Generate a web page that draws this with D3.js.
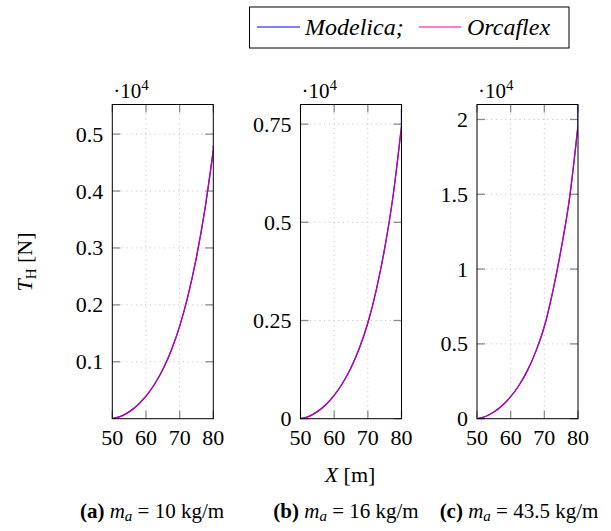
<!DOCTYPE html>
<html lang='en'>
  <head>
    <style type='text/css'>
      body { margin: 0; background-color: #fff; }
      svg { font-family: "Liberation Serif", "DejaVu Serif", serif; }
    </style>
  </head>
  <body>
    <svg id='chart' width='611' height='531'></svg>

    <script src='https://d3js.org/d3.v7.min.js'></script>
    <script type='text/javascript'>
        // data (T_H in N versus X in m)
        var xValues  = [50, 52.5, 55, 57.5, 60, 62.5, 65, 67.5, 70, 72.5, 75, 77.5, 80];
        var tensionA = [0, 40, 120, 238, 396, 601, 863, 1198, 1623, 2163, 2838, 3678, 4718];
        var tensionB = [0, 60, 180, 357, 594, 902, 1295, 1798, 2436, 3276, 4336, 5676, 7450];
        var tensionC = [0, 148, 444, 881, 1470, 2236, 3228, 4516, 6160, 8500, 11350, 14760, 19600];
        // Modelica ends with a short rise at X = 80
        var modelicaTail = [4800, 7870, 21500];

        var xTicks  = [50, 60, 70, 80];
        var yTicksA = [1000, 2000, 3000, 4000, 5000];
        var yTicksB = [0, 2500, 5000, 7500];
        var yTicksC = [0, 5000, 10000, 15000, 20000];
        var yMax    = [5520, 8000, 21000];

        var seriesNames  = ["Modelica;", "Orcaflex"];
        var seriesColors = ["#0000ff", "#f0008c"];
        var captionTag   = ["(a)", "(b)", "(c)"];
        var captionMass  = ["10", "16", "43.5"];

        var svg = d3.select("#chart");

        var plotTop = 104.5, plotBottom = 418.7, plotW = 101;
        var lefts = [112.3, 300.5, 477];
        var captionX = [152, 346, 519];
        var tensions = [tensionA, tensionB, tensionC];
        var yTicks = [yTicksA, yTicksB, yTicksC];

        lefts.forEach(function(left, i) {
            var x = d3.scaleLinear().domain([50, 80]).range([left, left + plotW]);
            var y = d3.scaleLinear().domain([0, yMax[i]]).range([plotBottom, plotTop]);
            var g = svg.append("g");

            // dotted grid
            g.selectAll(".gx").data(xTicks.slice(1, -1)).enter().append("line")
                .attr("x1", function(d) { return x(d); }).attr("x2", function(d) { return x(d); })
                .attr("y1", plotTop).attr("y2", plotBottom)
                .attr("stroke", "#c8c8c8").attr("stroke-dasharray", "1.2,3.5");
            g.selectAll(".gy").data(yTicks[i].filter(function(d) { return d > 0; })).enter().append("line")
                .attr("y1", function(d) { return y(d); }).attr("y2", function(d) { return y(d); })
                .attr("x1", left).attr("x2", left + plotW)
                .attr("stroke", "#c8c8c8").attr("stroke-dasharray", "1.2,3.5");

            // tick marks on all four sides
            var tl = 8;
            xTicks.forEach(function(t) {
                g.append("line").attr("x1", x(t)).attr("x2", x(t)).attr("y1", plotBottom).attr("y2", plotBottom - tl)
                    .attr("stroke", "#8c8c8c").attr("stroke-width", 1.3);
                g.append("line").attr("x1", x(t)).attr("x2", x(t)).attr("y1", plotTop).attr("y2", plotTop + tl)
                    .attr("stroke", "#8c8c8c").attr("stroke-width", 1.3);
            });
            yTicks[i].forEach(function(t) {
                g.append("line").attr("y1", y(t)).attr("y2", y(t)).attr("x1", left).attr("x2", left + tl)
                    .attr("stroke", "#8c8c8c").attr("stroke-width", 1.3);
                g.append("line").attr("y1", y(t)).attr("y2", y(t)).attr("x1", left + plotW).attr("x2", left + plotW - tl)
                    .attr("stroke", "#8c8c8c").attr("stroke-width", 1.3);
            });

            // curves
            svg.append("clipPath").attr("id", "clip" + i).append("rect")
                .attr("x", left).attr("y", plotTop).attr("width", plotW).attr("height", plotBottom - plotTop);
            var line = d3.line().x(function(d) { return x(d[0]); }).y(function(d) { return y(d[1]); })
                .curve(d3.curveMonotoneX);
            var orca = xValues.map(function(v, k) { return [v, tensions[i][k]]; });
            var path = g.append("g").attr("clip-path", "url(#clip" + i + ")");
            path.append("path").attr("d", line(orca) + "L" + x(80) + "," + y(modelicaTail[i]))
                .attr("fill", "none").attr("stroke", seriesColors[0]).attr("stroke-width", 1.3);
            path.append("path").attr("d", line(orca))
                .attr("fill", "none").attr("stroke", seriesColors[1]).attr("stroke-width", 1.3)
                .attr("stroke-opacity", 0.8);

            // frame
            g.append("rect").attr("x", left).attr("y", plotTop).attr("width", plotW).attr("height", plotBottom - plotTop)
                .attr("fill", "none").attr("stroke", "#000").attr("stroke-width", 1);

            // tick labels
            g.selectAll(".xl").data(xTicks).enter().append("text")
                .attr("x", function(d) { return x(d); }).attr("y", plotBottom + 26)
                .attr("text-anchor", "middle").attr("font-size", 22).text(function(d) { return d; });
            g.selectAll(".yl").data(yTicks[i]).enter().append("text")
                .attr("x", left - 9).attr("y", function(d) { return y(d) + 7.5; })
                .attr("text-anchor", "end").attr("font-size", 22)
                .text(function(d) { return d3.format("")(d / 1e4); });

            // exponent
            var ex = g.append("text").attr("x", left + 1).attr("y", plotTop - 7).attr("font-size", 21);
            ex.append("tspan").text("\u00b710");
            ex.append("tspan").attr("font-size", 15).attr("dy", -8).text("4");

            // caption
            var cap = g.append("text").attr("x", captionX[i]).attr("y", 518)
                .attr("text-anchor", "middle").attr("font-size", 21);
            cap.append("tspan").attr("font-weight", "bold").text(captionTag[i]);
            cap.append("tspan").attr("font-style", "italic").text(" m");
            cap.append("tspan").attr("font-style", "italic").attr("font-size", 15).attr("dy", 3).text("a");
            cap.append("tspan").attr("dy", -3).text(" = " + captionMass[i] + " kg/m");
        });

        // axis labels
        var xl = svg.append("text").attr("x", 350).attr("y", 482).attr("text-anchor", "middle").attr("font-size", 22);
        xl.append("tspan").attr("font-style", "italic").text("X");
        xl.append("tspan").text(" [m]");

        var yl = svg.append("text").attr("transform", "translate(32,262) rotate(-90)")
            .attr("text-anchor", "middle").attr("font-size", 22);
        yl.append("tspan").attr("font-style", "italic").text("T");
        yl.append("tspan").attr("font-size", 15).attr("dy", 4).text("H");
        yl.append("tspan").attr("dy", -4).text(" [N]");

        // legend
        var lg = svg.append("g");
        lg.append("rect").attr("x", 249.5).attr("y", 7).attr("width", 319.5).attr("height", 41)
            .attr("fill", "#fff").attr("stroke", "#000").attr("stroke-width", 1);
        var legX = [[257, 300, 305], [419, 461, 467]];
        seriesNames.forEach(function(name, i) {
            lg.append("line").attr("x1", legX[i][0]).attr("x2", legX[i][1]).attr("y1", 27).attr("y2", 27)
                .attr("stroke", seriesColors[i]).attr("stroke-width", 1.2);
            lg.append("text").attr("x", legX[i][2]).attr("y", 35).attr("font-size", 24)
                .attr("font-style", "italic").text(name);
        });
    </script>
  </body>
</html>
